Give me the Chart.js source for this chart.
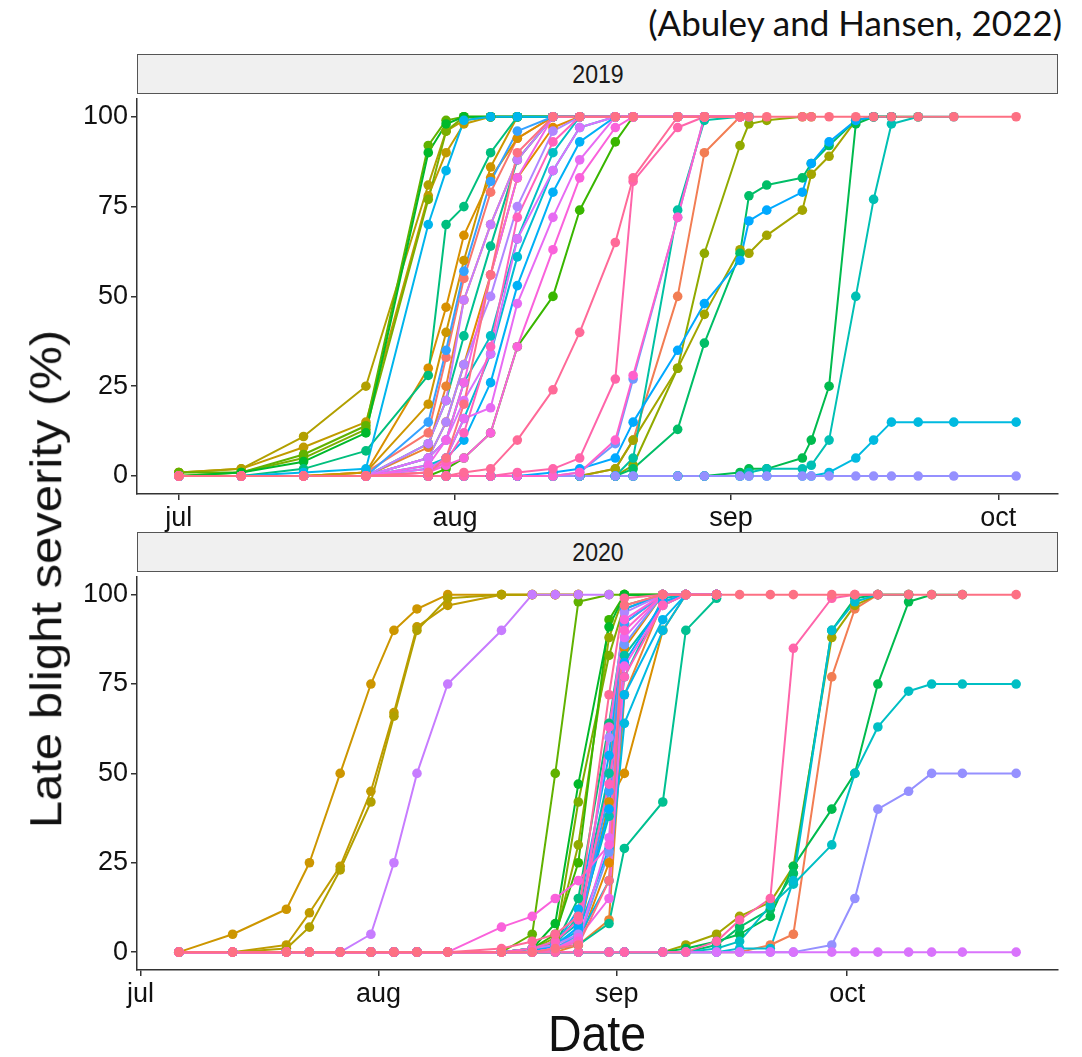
<!DOCTYPE html>
<html>
<head>
<meta charset="utf-8">
<title>Late blight severity 2019-2020</title>
<script src="https://cdn.jsdelivr.net/npm/chart.js@4.4.1/dist/chart.umd.min.js"></script>
<style>
  body { margin: 0; background: #fff; }
  #page { position: relative; width: 1082px; height: 1057px; overflow: hidden; font-family: "Liberation Sans", Arial, sans-serif; color: #111; }
  canvas { position: absolute; left: 0; }
  .strip { position: absolute; left: 137px; width: 921px; height: 40px; box-sizing: border-box; background: #f0f0f0; border: 1.5px solid #555; }
  .strip span { position: absolute; left: 50%; top: 50%; font-size: 26px; line-height: 1; transform: translate(-50%, -50%) scaleX(0.89); color: #1a1a1a; }
  .cite { position: absolute; right: 20px; top: 3px; font-family: Lato, "Open Sans", sans-serif; font-size: 35px; line-height: 1.1; color: #111; }
  .ytitle { position: absolute; left: 46px; top: 579px; font-size: 49px; line-height: 1; white-space: nowrap; transform: translate(-50%, -50%) rotate(-90deg) scaleY(0.9); }
  .xtitle { position: absolute; left: 597px; top: 1034px; font-size: 50px; line-height: 1; white-space: nowrap; transform: translate(-50%, -50%) scaleX(0.93); }
</style>
</head>
<body>
<div id="page">
  <canvas id="chart2019" width="1082" height="440" style="top:94px"></canvas>
  <canvas id="chart2020" width="1082" height="440" style="top:572px"></canvas>
  <div class="strip" style="top:54px"><span>2019</span></div>
  <div class="strip" style="top:532px"><span>2020</span></div>
  <div class="cite">(Abuley and Hansen, 2022)</div>
  <div class="ytitle">Late blight severity (%)</div>
  <div class="xtitle">Date</div>
</div>

<script>
// genotypes, coloured in this order
const genotypes = ['G01', 'G02', 'G03', 'G04', 'G05', 'G06', 'G07', 'G08', 'G09', 'G10',
                   'G11', 'G12', 'G13', 'G14', 'G15', 'G16', 'G17', 'G18', 'G19', 'G20',
                   'G21', 'G22', 'G23', 'G24', 'G25', 'G26', 'G27', 'G28', 'G29', 'G30',
                   'G31', 'G32', 'G33', 'G34', 'G35', 'G36', 'G37', 'G38', 'G39', 'G40'];

const monthStarts = ['07-01', '08-01', '09-01', '10-01'];
const monthLabels = ['jul', 'aug', 'sep', 'oct'];
const severityTicks = [0, 25, 50, 75, 100];

// assessment dates 2019 (month-day)
const dates2019 = ['07-01', '07-08', '07-15', '07-22', '07-29', '07-31', '08-02', '08-05', '08-08',
                   '08-12', '08-15', '08-19', '08-21', '08-26', '08-29', '09-02', '09-03', '09-05',
                   '09-09', '09-10', '09-12', '09-15', '09-17', '09-19', '09-22', '09-26', '10-03'];

// severity (%) per genotype, one value per assessment date
const severity2019 = [
  ['G01', [0, 0, 0, 1, 12, 33, 55, 79, 94, 100, 100, 100, 100, 100, 100, 100]],
  ['G02', [0, 0, 0, 0, 0, 0, 0, 0, 0, 0, 0, 2, 10, 50, 90, 100, 100]],
  ['G03', [0, 0, 0, 0, 8, 25, 49, 70, 88, 100, 100, 100, 100, 100, 100, 100]],
  ['G04', [0, 0, 0, 0, 5, 15, 31, 56, 83, 97, 100, 100, 100, 100, 100, 100]],
  ['G05', [0, 0, 0, 1, 30, 47, 67, 83, 94, 100, 100, 100, 100, 100, 100, 100]],
  ['G06', [0, 0, 0, 1, 20, 40, 60, 86, 100, 100, 100, 100, 100, 100, 100, 100]],
  ['G07', [1, 2, 8, 15, 78, 90, 98, 100, 100, 100, 100, 100, 100, 100, 100, 100]],
  ['G08', [1, 2, 11, 25, 81, 96, 99, 100, 100, 100, 100, 100, 100, 100, 100, 100]],
  ['G09', [0, 0, 0, 0, 0, 0, 0, 0, 0, 0, 0, 2, 10, 30, 45, 63, 62, 67, 74, 84, 89, 99, 100, 100]],
  ['G10', [0, 0, 0, 0, 0, 0, 0, 0, 0, 0, 0, 0, 3, 30, 62, 92, 98, 99, 100, 100]],
  ['G11', [0, 1, 5, 13, 77, 96, 100, 100, 100, 100, 100, 100, 100, 100, 100, 100]],
  ['G12', [1, 1, 6, 14, 92, 99, 100, 100, 100, 100, 100, 100, 100, 100, 100, 100]],
  ['G13', [0, 0, 0, 0, 0, 2, 5, 12, 36, 50, 74, 93, 100, 100, 100, 100]],
  ['G14', [0, 1, 4, 12, 90, 98, 100, 100, 100, 100, 100, 100, 100, 100, 100, 100]],
  ['G15', [0, 0, 0, 0, 0, 0, 0, 0, 0, 0, 0, 0, 0, 0, 0, 1, 2, 2, 5, 10, 25, 98, 100, 100, 100]],
  ['G16', [0, 0, 0, 0, 0, 0, 0, 0, 0, 0, 0, 0, 2, 13, 37, 62, 78, 81, 83, 87, 92, 99, 100, 100]],
  ['G17', [0, 0, 2, 7, 28, 70, 75, 90, 100, 100, 100, 100, 100, 100, 100, 100]],
  ['G18', [0, 0, 0, 0, 9, 21, 39, 64, 88, 100, 100, 100, 100, 100, 100, 100]],
  ['G19', [0, 0, 0, 0, 0, 0, 0, 0, 0, 0, 0, 0, 5, 74, 99, 100, 100]],
  ['G20', [0, 0, 0, 0, 0, 0, 0, 0, 0, 0, 0, 0, 0, 0, 0, 0, 1, 2, 2, 3, 10, 50, 77, 98, 100, 100]],
  ['G21', [0, 0, 0, 0, 5, 10, 26, 39, 66, 90, 100, 100, 100, 100, 100, 100]],
  ['G22', [0, 0, 0, 0, 3, 5, 16, 34, 61, 85, 97, 100, 100, 100, 100, 100]],
  ['G23', [0, 0, 0, 0, 0, 0, 0, 0, 0, 0, 0, 0, 0, 0, 0, 0, 0, 0, 0, 0, 1, 5, 10, 15, 15, 15, 15]],
  ['G24', [0, 0, 1, 2, 70, 85, 99, 100, 100, 100, 100, 100, 100, 100, 100, 100]],
  ['G25', [0, 0, 0, 0, 2, 5, 10, 26, 53, 79, 93, 100, 100, 100, 100, 100]],
  ['G26', [0, 0, 0, 0, 0, 0, 0, 0, 0, 1, 2, 5, 15, 35, 48, 60, 71, 74, 79, 87, 93, 99, 100, 100]],
  ['G27', [0, 0, 0, 0, 15, 35, 57, 82, 96, 100, 100, 100, 100, 100, 100, 100]],
  ['G28', [0, 0, 0, 0, 0, 0, 0, 0, 0, 0, 1, 9, 27, 72, 100, 100, 100]],
  ['G29', [0, 0, 0, 0, 0, 0, 0, 0, 0, 0, 0, 0, 0, 0, 0, 0, 0, 0, 0, 0, 0, 0, 0, 0, 0, 0, 0]],
  ['G30', [0, 0, 0, 0, 5, 15, 31, 50, 75, 96, 100, 100, 100, 100, 100, 100]],
  ['G31', [0, 0, 0, 0, 9, 21, 49, 70, 88, 100, 100, 100, 100, 100, 100, 100]],
  ['G32', [0, 0, 0, 0, 5, 10, 21, 34, 66, 85, 97, 100, 100, 100, 100, 100]],
  ['G33', [0, 0, 0, 0, 2, 5, 16, 19, 48, 72, 88, 100, 100, 100, 100, 100]],
  ['G34', [0, 0, 0, 0, 3, 10, 26, 56, 83, 100, 100, 100, 100, 100, 100, 100]],
  ['G35', [0, 0, 0, 0, 1, 3, 5, 12, 36, 63, 83, 97, 100, 100, 100, 100]],
  ['G36', [0, 0, 0, 0, 0, 0, 0, 0, 0, 0, 1, 10, 28, 72, 100, 100]],
  ['G37', [0, 0, 0, 0, 1, 4, 12, 36, 72, 93, 100, 100, 100, 100, 100, 100]],
  ['G38', [0, 0, 0, 0, 0, 0, 0, 0, 1, 2, 5, 27, 82, 97, 100, 100]],
  ['G39', [0, 0, 0, 0, 0, 0, 1, 2, 10, 24, 40, 65, 83, 100, 100, 100]],
  ['G40', [0, 0, 0, 0, 1, 5, 20, 56, 90, 100, 100, 100, 100, 100, 100, 100, 100, 100, 100, 100, 100, 100, 100, 100, 100, 100, 100]]
];

// assessment dates 2020 (month-day)
const dates2020 = ['07-06', '07-13', '07-20', '07-23', '07-27', '07-31', '08-03', '08-06', '08-10',
                   '08-17', '08-21', '08-24', '08-27', '08-31', '09-02', '09-07', '09-10', '09-14',
                   '09-17', '09-21', '09-24', '09-29', '10-02', '10-05', '10-09', '10-12', '10-16', '10-23'];

const severity2020 = [
  ['G01', [0, 0, 0, 0, 0, 0, 0, 0, 0, 0, 0, 1, 3, 50, 96, 100, 100, 100]],
  ['G02', [0, 0, 0, 0, 0, 0, 0, 0, 0, 0, 0, 0, 0, 0, 0, 0, 0, 0, 0, 2, 5, 77, 96, 100, 100]],
  ['G03', [0, 0, 0, 0, 0, 0, 0, 0, 0, 0, 0, 0, 2, 9, 72, 98, 100, 100]],
  ['G04', [0, 0, 0, 0, 0, 0, 0, 0, 0, 0, 0, 1, 2, 25, 85, 100, 100, 100]],
  ['G05', [0, 0, 0, 0, 0, 0, 0, 0, 0, 0, 0, 1, 5, 42, 50, 90, 100, 100]],
  ['G06', [0, 5, 12, 25, 50, 75, 90, 96, 100, 100, 100, 100, 100]],
  ['G07', [0, 0, 2, 11, 24, 45, 67, 91, 97, 100, 100, 100, 100]],
  ['G08', [0, 0, 1, 7, 23, 42, 66, 90, 99, 100, 100, 100, 100]],
  ['G09', [0, 0, 0, 0, 0, 0, 0, 0, 0, 0, 0, 0, 0, 0, 0, 0, 2, 5, 10, 14, 24, 88, 97, 100, 100]],
  ['G10', [0, 0, 0, 0, 0, 0, 0, 0, 0, 0, 1, 4, 30, 88, 100, 100, 100, 100]],
  ['G11', [0, 0, 0, 0, 0, 0, 0, 0, 0, 0, 0, 3, 42, 83, 97, 100, 100, 100]],
  ['G12', [0, 0, 0, 0, 0, 0, 0, 0, 0, 0, 5, 50, 98, 100, 100, 100, 100, 100]],
  ['G13', [0, 0, 0, 0, 0, 0, 0, 0, 0, 0, 1, 5, 25, 93, 100, 100, 100, 100]],
  ['G14', [0, 0, 0, 0, 0, 0, 0, 0, 0, 0, 1, 8, 47, 91, 100, 100, 100, 100]],
  ['G15', [0, 0, 0, 0, 0, 0, 0, 0, 0, 0, 0, 0, 0, 0, 0, 0, 1, 3, 5, 10, 24, 40, 50, 75, 98, 100, 100]],
  ['G16', [0, 0, 0, 0, 0, 0, 0, 0, 0, 0, 0, 0, 0, 0, 0, 0, 0, 2, 7, 12, 22, 90, 99, 100]],
  ['G17', [0, 0, 0, 0, 0, 0, 0, 0, 0, 0, 0, 2, 15, 64, 92, 100, 100, 100]],
  ['G18', [0, 0, 0, 0, 0, 0, 0, 0, 0, 0, 0, 1, 2, 8, 29, 42, 90, 99]],
  ['G19', [0, 0, 0, 0, 0, 0, 0, 0, 0, 0, 0, 2, 10, 50, 83, 97, 100, 100]],
  ['G20', [0, 0, 0, 0, 0, 0, 0, 0, 0, 0, 1, 3, 8, 38, 77, 99, 100, 100]],
  ['G21', [0, 0, 0, 0, 0, 0, 0, 0, 0, 0, 0, 0, 0, 0, 0, 0, 0, 1, 3, 13, 19, 30, 50, 63, 73, 75, 75, 75]],
  ['G22', [0, 0, 0, 0, 0, 0, 0, 0, 0, 0, 0, 0, 0, 0, 0, 0, 0, 0, 1, 1, 20, 90, 98, 100, 100]],
  ['G23', [0, 0, 0, 0, 0, 0, 0, 0, 0, 0, 0, 1, 4, 20, 64, 90, 100, 100]],
  ['G24', [0, 0, 0, 0, 0, 0, 0, 0, 0, 0, 0, 2, 6, 29, 72, 93, 100, 100]],
  ['G25', [0, 0, 0, 0, 0, 0, 0, 0, 0, 0, 1, 2, 12, 55, 96, 100, 100, 100]],
  ['G26', [0, 0, 0, 0, 0, 0, 0, 0, 0, 0, 0, 2, 7, 40, 81, 98, 100, 100]],
  ['G27', [0, 0, 0, 0, 0, 0, 0, 0, 0, 0, 0, 1, 5, 45, 92, 100, 100, 100]],
  ['G28', [0, 0, 0, 0, 0, 0, 0, 0, 0, 0, 0, 1, 3, 28, 86, 100, 100, 100]],
  ['G29', [0, 0, 0, 0, 0, 0, 0, 0, 0, 0, 0, 0, 0, 0, 0, 0, 0, 0, 0, 0, 0, 2, 15, 40, 45, 50, 50, 50]],
  ['G30', [0, 0, 0, 0, 0, 0, 0, 0, 0, 0, 1, 2, 5, 60, 95, 100, 100, 100]],
  ['G31', [0, 0, 0, 0, 0, 5, 25, 50, 75, 90, 100, 100, 100, 100]],
  ['G32', [0, 0, 0, 0, 0, 0, 0, 0, 0, 0, 0, 0, 0, 0, 0, 0, 0, 0, 0, 0, 0, 0, 0, 0, 0, 0, 0, 0]],
  ['G33', [0, 0, 0, 0, 0, 0, 0, 0, 0, 0, 0, 1, 3, 32, 88, 100, 100, 100]],
  ['G34', [0, 0, 0, 0, 0, 0, 0, 0, 0, 0, 0, 1, 4, 15, 80, 97, 100, 100]],
  ['G35', [0, 0, 0, 0, 0, 0, 0, 0, 0, 7, 10, 15, 20, 30, 93, 100, 100, 100]],
  ['G36', [0, 0, 0, 0, 0, 0, 0, 0, 0, 0, 0, 1, 3, 63, 90, 100, 100, 100]],
  ['G37', [0, 0, 0, 0, 0, 0, 0, 0, 0, 0, 1, 3, 9, 47, 77, 97, 100, 100]],
  ['G38', [0, 0, 0, 0, 0, 0, 0, 0, 0, 0, 0, 0, 0, 0, 0, 0, 0, 3, 9, 15, 85, 99, 100, 100]],
  ['G39', [0, 0, 0, 0, 0, 0, 0, 0, 0, 1, 3, 5, 10, 72, 99, 100, 100, 100]],
  ['G40', [0, 0, 0, 0, 0, 0, 0, 0, 0, 0, 0, 1, 2, 20, 97, 100, 100, 100, 100, 100, 100, 100, 100, 100, 100, 100, 100, 100]]
];

// days after 1 July
function dayOf(mmdd) {
  const [m, d] = mmdd.split('-').map(Number);
  return (Date.UTC(2001, m - 1, d) - Date.UTC(2001, 6, 1)) / 86400000;
}

// ggplot hue palette: evenly spaced hues in HCL, chroma 100, luminance 65
function hclToHex(h, c, l) {
  const rad = h * Math.PI / 180;
  const U = c * Math.cos(rad), V = c * Math.sin(rad);
  const xn = 95.047, yn = 100, zn = 108.883;
  const den = xn + 15 * yn + 3 * zn;
  const un = 4 * xn / den, vn = 9 * yn / den;
  const Y = yn * Math.pow((l + 16) / 116, 3);
  const up = U / (13 * l) + un, vp = V / (13 * l) + vn;
  const X = Y * 9 * up / (4 * vp);
  const Z = Y * (12 - 3 * up - 20 * vp) / (4 * vp);
  const rgb = [
    3.2404542 * X - 1.5371385 * Y - 0.4985314 * Z,
    -0.9692660 * X + 1.8760108 * Y + 0.0415560 * Z,
    0.0556434 * X - 0.2040259 * Y + 1.0572252 * Z
  ].map(function (v) {
    v /= 100;
    v = v <= 0.0031308 ? 12.92 * v : 1.055 * Math.pow(v, 1 / 2.4) - 0.055;
    return Math.round(Math.min(1, Math.max(0, v)) * 255);
  });
  return '#' + rgb.map(v => v.toString(16).padStart(2, '0')).join('');
}

const palette = genotypes.map((g, i) => hclToHex(15 + 360 * i / genotypes.length, 100, 65));

const tickFont = { family: '"Liberation Sans", Arial, sans-serif', size: 27 };
const axisColour = '#333';

function drawPanel(canvasId, dates, rows, axisHeight) {
  const days = dates.map(dayOf);
  const pad = (days[days.length - 1] - days[0]) * 0.05;
  const datasets = [];

  // lines first, then all points above them
  rows.forEach(function ([name, values]) {
    const k = genotypes.indexOf(name);
    const points = values.map((v, i) => ({ x: days[i], y: v }));
    datasets.push({
      label: name, data: points, borderColor: palette[k], borderWidth: 2,
      borderJoinStyle: 'round', borderCapStyle: 'round',
      pointRadius: 0, pointHoverRadius: 0, order: 200 - k
    });
    datasets.push({
      label: name, data: points, showLine: false, pointRadius: 4.8, pointHoverRadius: 4.8,
      pointBackgroundColor: palette[k], pointBorderWidth: 0, order: 100 - k
    });
  });

  new Chart(document.getElementById(canvasId), {
    type: 'line',
    data: { datasets: datasets },
    options: {
      responsive: false,
      animation: false,
      events: [],
      layout: { padding: { left: 0, right: 24, top: 0, bottom: 0 } },
      plugins: { legend: { display: false }, tooltip: { enabled: false } },
      scales: {
        x: {
          type: 'linear',
          min: days[0] - pad,
          max: days[days.length - 1] + pad,
          afterBuildTicks: function (scale) {
            scale.ticks = monthStarts.map(d => ({ value: dayOf(d) }));
          },
          afterFit: function (scale) {
            scale.height = axisHeight;
            scale.paddingLeft = 0;
            scale.paddingRight = 0;
          },
          ticks: {
            autoSkip: false, maxRotation: 0, padding: 2, color: '#111', font: tickFont,
            callback: function (value) {
              const i = monthStarts.findIndex(d => dayOf(d) === value);
              return monthLabels[i];
            }
          },
          grid: { drawOnChartArea: false, tickLength: 6, color: axisColour, lineWidth: 1.5 },
          border: { color: axisColour, width: 1.5 }
        },
        y: {
          min: -5,
          max: 105,
          afterBuildTicks: function (scale) {
            scale.ticks = severityTicks.map(v => ({ value: v }));
          },
          afterFit: function (scale) {
            scale.width = 137;
            scale.paddingTop = 0;
            scale.paddingBottom = 0;
          },
          ticks: { padding: 3, color: '#111', font: tickFont },
          grid: { drawOnChartArea: false, tickLength: 6, color: axisColour, lineWidth: 1.5 },
          border: { color: axisColour, width: 1.5 }
        }
      }
    }
  });
}

drawPanel('chart2019', dates2019, severity2019, 40);
drawPanel('chart2020', dates2020, severity2020, 42);
</script>
</body>
</html>
